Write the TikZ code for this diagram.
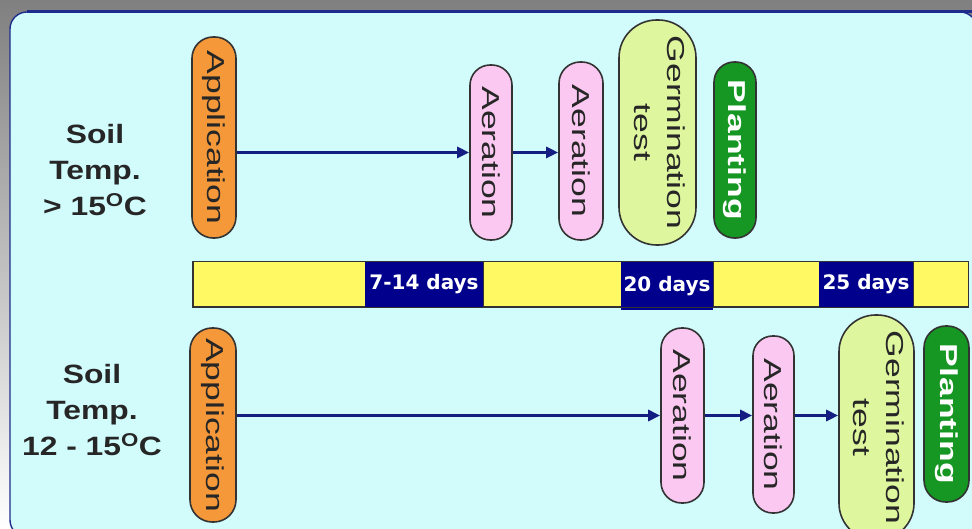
\documentclass[tikz,border=0pt]{standalone}
\usepackage{fontspec}
\usepackage{graphicx}
\setmainfont{Liberation Sans}
\newfontfamily\pillfont[FakeStretch=1.45]{Liberation Sans}
\newfontfamily\tempfont[FakeStretch=1.2]{Liberation Sans}
\newfontfamily\dayfont{DejaVu Sans}
\usetikzlibrary{arrows.meta}
\definecolor{shade}{RGB}{228,230,231}
\definecolor{panelfill}{RGB}{210,251,252}
\definecolor{panelline}{RGB}{30,45,140}
\definecolor{appcol}{RGB}{245,152,58}
\definecolor{aercol}{RGB}{250,200,240}
\definecolor{germcol}{RGB}{222,246,158}
\definecolor{plantcol}{RGB}{22,150,34}
\definecolor{barfill}{RGB}{255,250,100}
\definecolor{daycol}{RGB}{0,0,140}
\definecolor{flowcol}{RGB}{20,30,130}

\begin{document}
\begin{tikzpicture}[x=1pt, y=1pt,
    stage/.style n args={3}{draw=black!80, line width=1.6pt, inner sep=0pt,
        minimum width=#1pt, minimum height=#2pt, rounded corners=#1*0.5pt-0.8pt,
        fill=#3, text=black!85, font=\pillfont\fontsize{24.5}{33}\selectfont},
    temp/.style={align=center, text=black!85, font=\tempfont\bfseries\fontsize{26.5}{36}\selectfont},
    slot/.style={fill=barfill, draw=black!80, line width=1pt, minimum height=45pt, inner sep=0pt},
    gap/.style={fill=daycol, minimum height=45pt, inner sep=2pt, text=white,
        font=\dayfont\bfseries\fontsize{20}{24}\selectfont},
    flow/.style={-{Triangle[length=12pt,width=11pt]}, line width=2.6pt, flowcol}]
    \useasboundingbox (0,0) rectangle (972,528);
    \fill[shade] (0,0) rectangle (972,528);
    \clip (0,0) rectangle (972,528);

    % Draw the panel
    \draw[panelline, fill=panelfill, line width=1.4pt, rounded corners=17pt] (10,516) rectangle (977,-9);
    \draw[panelline, line width=3pt] (27,516) -- (972,516);

    % Draw nodes for soil above 15 C
    \node[temp] (temp1) at (95, 358) {Soil\\Temp.\\> 15\textsuperscript{O}C};
    \node[stage={44}{201}{appcol}] (app1) at (214, 390.5) {\rotatebox{-90}{Application}};
    \node[stage={42}{175}{aercol}] (aer1) at (491, 375.5) {\rotatebox{-90}{Aeration}};
    \node[stage={44}{178}{aercol}] (aer2) at (581, 377) {\rotatebox{-90}{Aeration}};
    \node[stage={77}{225}{germcol}] (germ1) at (657.5, 395.5) {\rotatebox{-90}{\begin{tabular}{@{}c@{}}Germination\\test\end{tabular}}};
    \node[stage={42}{176}{plantcol}, text=white, font=\pillfont\bfseries\fontsize{24.5}{33}\selectfont] (plant1) at (735, 378) {\rotatebox{-90}{Planting}};

    % Draw the time bar
    \node[slot, minimum width=172pt] (s1) at (279, 243.5) {};
    \node[gap, minimum width=118pt] (d1) at (424, 243.5) {7-14 days};
    \node[slot, minimum width=138pt] (s2) at (552, 243.5) {};
    \node[gap, minimum width=92pt, minimum height=48pt] (d2) at (667, 242) {20 days};
    \node[slot, minimum width=106pt] (s3) at (766, 243.5) {};
    \node[gap, minimum width=94pt] (d3) at (866, 243.5) {25 days};
    \node[slot, minimum width=55pt] (s4) at (940.5, 243.5) {};
    \draw[line width=1.8pt, black!80] (s1.north west) rectangle (s4.south east);

    % Draw nodes for soil 12 - 15 C
    \node[temp] (temp2) at (92, 118) {Soil\\Temp.\\12 - 15\textsuperscript{O}C};
    \node[stage={46}{194}{appcol}] (app2) at (213, 103) {\rotatebox{-90}{Application}};
    \node[stage={43}{175}{aercol}] (aer3) at (682.5, 112.5) {\rotatebox{-90}{Aeration}};
    \node[stage={41}{177}{aercol}] (aer4) at (773.5, 103.5) {\rotatebox{-90}{Aeration}};
    \node[stage={75}{225}{germcol}] (germ2) at (876.5, 100.5) {\rotatebox{-90}{\begin{tabular}{@{}c@{}}Germination\\test\end{tabular}}};
    \node[stage={45}{176}{plantcol}, text=white, font=\pillfont\bfseries\fontsize{24.5}{33}\selectfont] (plant2) at (946.5, 114) {\rotatebox{-90}{Planting}};

    % Draw the arrows
    \draw[flow] (aer1.west -| app1.east) -- (aer1.west);
    \draw[flow] (aer1.east) -- (aer1.east -| aer2.west);
    \draw[flow] (aer3.west -| app2.east) -- (aer3.west);
    \draw[flow] (aer3.east) -- (aer3.east -| aer4.west);
    \draw[flow] (aer3.east -| aer4.east) -- (aer3.east -| germ2.west);

\end{tikzpicture}
\end{document}
